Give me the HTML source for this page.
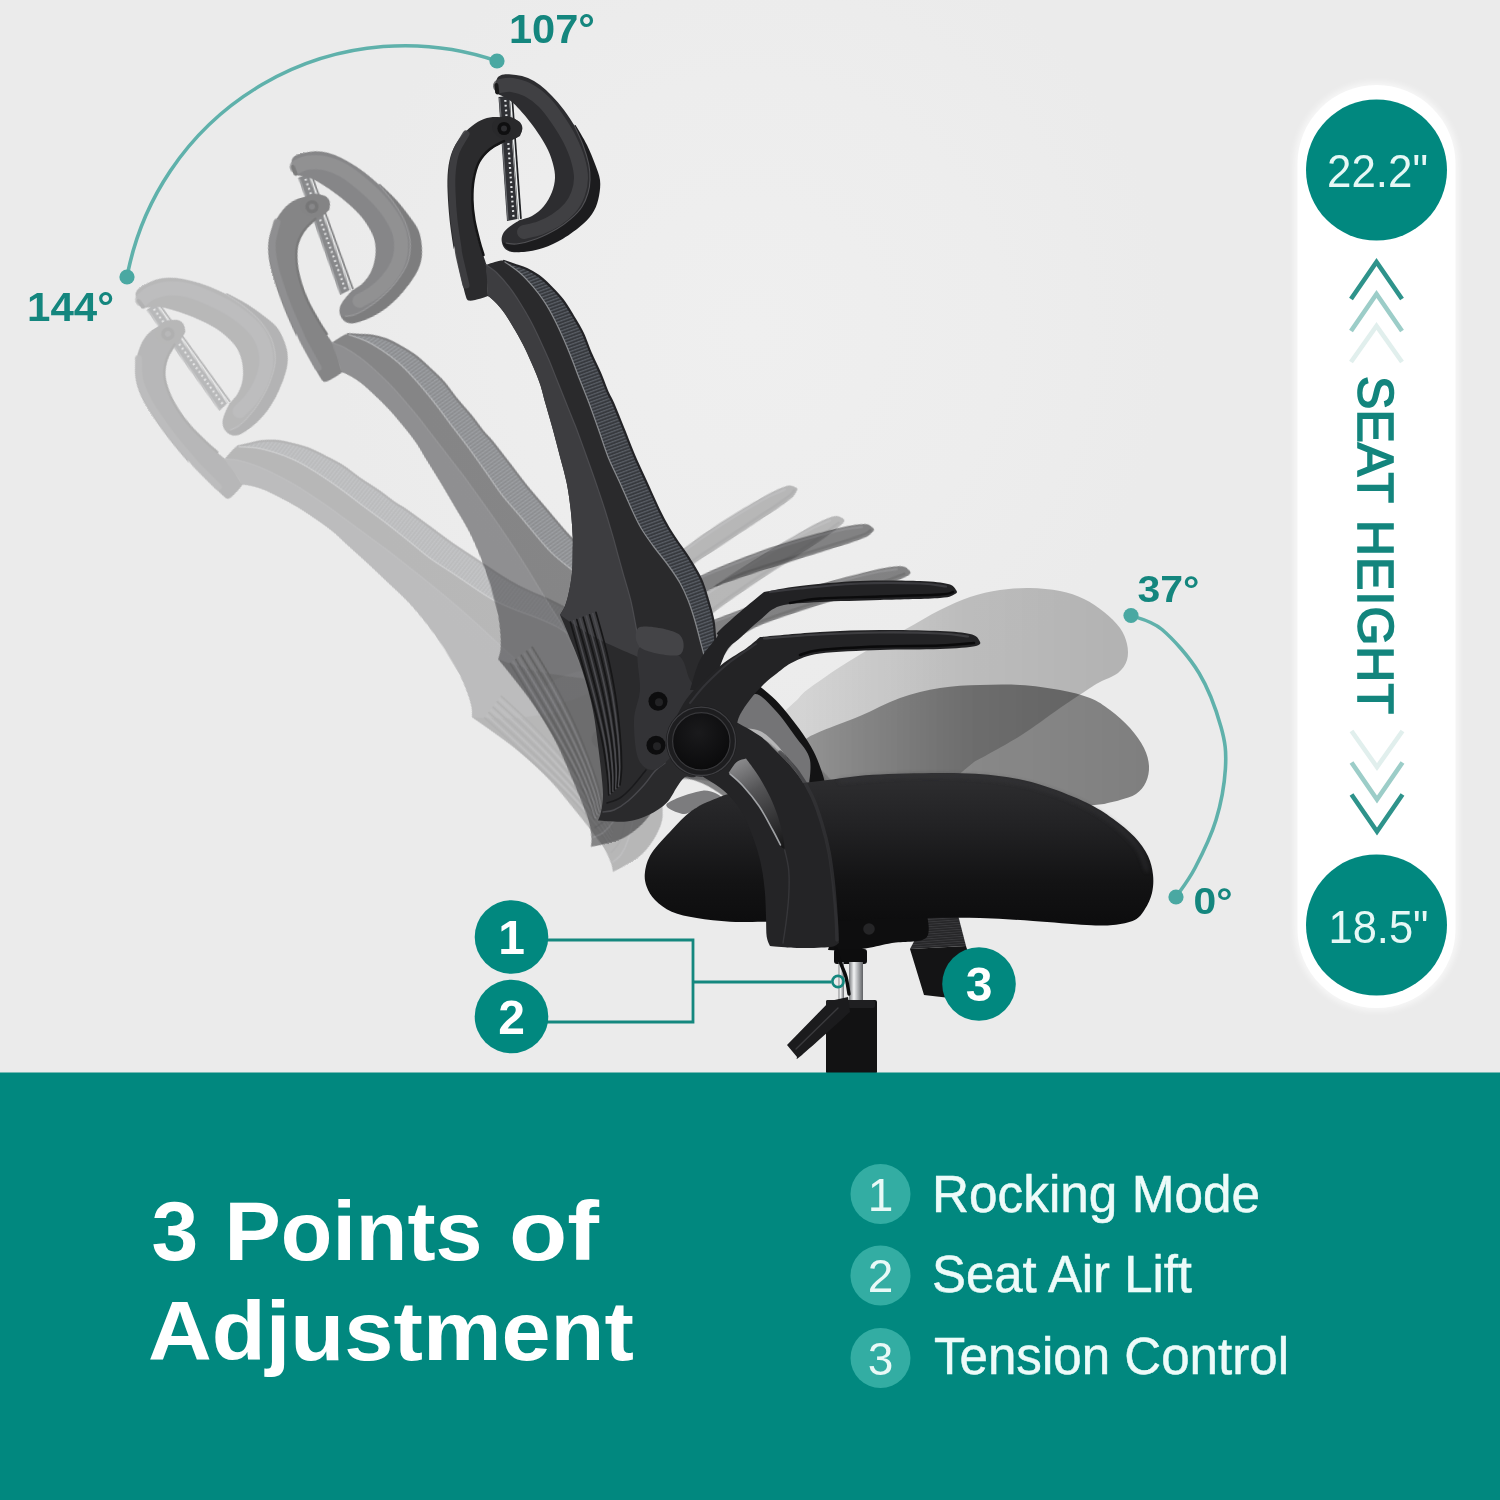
<!DOCTYPE html>
<html><head><meta charset="utf-8"><title>3 Points of Adjustment</title>
<style>
html,body{margin:0;padding:0;background:#ececec;}
body{width:1500px;height:1500px;overflow:hidden;font-family:"Liberation Sans",sans-serif;}
svg{display:block;font-family:"Liberation Sans",sans-serif;}
</style></head><body>
<svg width="1500" height="1500" viewBox="0 0 1500 1500">
<defs>
<radialGradient id="bg" cx="750" cy="330" r="420" gradientUnits="userSpaceOnUse">
<stop offset="0" stop-color="#efefef"/><stop offset="0.6" stop-color="#ededed"/><stop offset="1" stop-color="#ebebeb"/>
</radialGradient>
<filter id="blur6" x="-20%" y="-20%" width="140%" height="140%"><feGaussianBlur stdDeviation="5"/></filter>
<filter id="blur3" x="-20%" y="-20%" width="140%" height="140%"><feGaussianBlur stdDeviation="3"/></filter>
<filter id="blur2" x="-20%" y="-20%" width="140%" height="140%"><feGaussianBlur stdDeviation="2"/></filter>
<filter id="blur1" x="-20%" y="-20%" width="140%" height="140%"><feGaussianBlur stdDeviation="1"/></filter>
</defs>
<rect width="1500" height="1500" fill="url(#bg)"/>
<defs><pattern id="meshpat" width="6" height="3.2" patternUnits="userSpaceOnUse" patternTransform="rotate(-20)">
<rect width="6" height="3.2" fill="#3f4247"/><rect y="0" width="6" height="1.1" fill="#5a5e66"/><rect y="2" width="6" height="0.6" fill="#2a2c30"/></pattern>
<pattern id="ribs" width="4" height="2.4" patternUnits="userSpaceOnUse" patternTransform="rotate(-4)"><rect width="4" height="2.4" fill="#262628"/><rect width="4" height="0.9" fill="#3a3a3d"/></pattern>
<linearGradient id="seatg" x1="0" y1="770" x2="0" y2="930" gradientUnits="userSpaceOnUse"><stop offset="0" stop-color="#2f2f31"/><stop offset="0.35" stop-color="#222224"/><stop offset="0.7" stop-color="#131314"/><stop offset="1" stop-color="#0c0c0d"/></linearGradient>
<radialGradient id="knobg" cx="0.45" cy="0.35" r="0.8"><stop offset="0" stop-color="#1a1a1c"/><stop offset="1" stop-color="#070708"/></radialGradient>
<linearGradient id="rodg" x1="0" y1="0" x2="1" y2="0"><stop offset="0" stop-color="#77797c"/><stop offset="0.35" stop-color="#f2f3f4"/><stop offset="0.6" stop-color="#b9bbbe"/><stop offset="1" stop-color="#5e6063"/></linearGradient>
<linearGradient id="gs2" x1="800" y1="0" x2="1130" y2="0" gradientUnits="userSpaceOnUse"><stop offset="0" stop-color="#000" stop-opacity="0.10"/><stop offset="0.5" stop-color="#000" stop-opacity="0.20"/><stop offset="1" stop-color="#000" stop-opacity="0.24"/></linearGradient>
<linearGradient id="gs1" x1="800" y1="0" x2="1150" y2="0" gradientUnits="userSpaceOnUse"><stop offset="0" stop-color="#000" stop-opacity="0.30"/><stop offset="0.5" stop-color="#000" stop-opacity="0.42"/><stop offset="1" stop-color="#000" stop-opacity="0.46"/></linearGradient>
<linearGradient id="cutg" x1="735" y1="760" x2="785" y2="848" gradientUnits="userSpaceOnUse"><stop offset="0" stop-color="#8e8e90"/><stop offset="0.35" stop-color="#555557"/><stop offset="1" stop-color="#161617"/></linearGradient>
</defs>
<defs><g id="upper"><path d="M498.5 97 L509 96 L517.5 219 L507 221 Z" fill="#303135"/>
<path d="M505.3 100 L513.6 219" stroke="#e3e5e7" stroke-width="2.2" stroke-dasharray="1.8 3" fill="none"/>
<path d="M499.6 98 L508 220" stroke="#6d6f73" stroke-width="1.2" fill="none"/>
<path d="M511.2 98 L520 219" stroke="#1f2023" stroke-width="3.6" fill="none"/>
<path d="M510.6 98 L519.3 219" stroke="#eef0f1" stroke-width="1.5" fill="none"/>
<path d="M465.3 294.7C465.9 295.7 466.2 299.8 468.7 300.5C471.1 301.2 476.8 299.4 480.0 298.7C483.2 297.9 486.7 296.4 488.0 296.0L486.5 264.7C485.2 260.9 481.1 249.4 479.0 242.0C476.9 234.6 475.2 227.0 474.0 220.0C472.8 213.0 472.2 206.7 472.0 200.0C471.8 193.3 472.0 186.0 473.0 180.0C474.0 174.0 475.5 168.7 478.0 164.0C480.5 159.3 484.3 155.3 488.0 152.0C491.7 148.7 496.0 146.0 500.0 144.0C504.0 142.0 508.7 141.3 512.0 140.0C515.3 138.7 518.7 136.7 520.0 136.0C520.4 134.7 522.5 130.4 522.4 128.0C522.3 125.6 520.9 123.1 519.2 121.6C517.5 120.1 515.9 119.8 512.0 119.0C508.1 118.2 500.7 117.0 496.0 117.0C491.3 117.0 488.0 117.5 484.0 119.0C480.0 120.5 476.0 122.8 472.0 126.0C468.0 129.2 463.3 133.7 460.0 138.0C456.7 142.3 454.0 146.7 452.0 152.0C450.0 157.3 448.7 163.3 448.0 170.0C447.3 176.7 447.3 183.7 447.6 192.0C447.9 200.3 448.6 210.7 449.6 220.0C450.6 229.3 452.8 243.6 453.6 248.0C454.5 252.4 453.6 242.5 454.7 246.7C455.8 250.9 458.2 265.0 460.0 273.0C461.8 281.0 464.4 291.1 465.3 294.7Z" fill="#2b2b2d" />
<path d="M466.0 134.0C464.3 137.0 458.3 146.0 456.0 152.0C453.7 158.0 453.1 163.3 452.4 170.0C451.7 176.7 451.7 183.7 452.0 192.0C452.3 200.3 453.0 210.7 454.0 220.0C455.0 229.3 457.2 242.2 458.0 248.0C458.8 253.8 457.7 248.8 459.0 255.0C460.3 261.2 464.8 280.0 466.0 285.0" fill="none" stroke="#3f3f42" stroke-width="7" stroke-linecap="round" stroke-linejoin="round" opacity="0.9"/>
<path d="M504.0 141.0C501.7 142.3 494.2 145.5 490.0 149.0C485.8 152.5 481.7 156.8 479.0 162.0C476.3 167.2 474.7 173.7 473.6 180.0C472.5 186.3 472.3 193.3 472.4 200.0C472.5 206.7 473.2 213.0 474.4 220.0C475.6 227.0 478.1 236.2 479.6 242.0C481.1 247.8 482.9 252.8 483.5 255.0" fill="none" stroke="#151516" stroke-width="2.5" stroke-linecap="round" stroke-linejoin="round" />
<ellipse cx="507" cy="128" rx="15" ry="11.5" transform="rotate(12 507 128)" fill="#29292b"/>
<circle cx="504" cy="128.5" r="6.6" fill="#0f0f10"/><circle cx="504" cy="128.5" r="3" fill="#2e2e31"/>
<path d="M495.6 83.0C496.0 82.0 496.6 78.4 498.0 77.0C499.4 75.6 501.0 74.7 504.0 74.4C507.0 74.1 512.0 74.4 516.0 75.0C520.0 75.6 524.0 76.3 528.0 78.0C532.0 79.7 536.0 82.0 540.0 85.0C544.0 88.0 548.0 91.8 552.0 96.0C556.0 100.2 560.0 104.7 564.0 110.0C568.0 115.3 572.3 122.0 576.0 128.0C579.7 134.0 583.0 140.0 586.0 146.0C589.0 152.0 592.0 158.7 594.0 164.0C596.0 169.3 597.5 173.3 598.0 178.0C598.5 182.7 598.0 187.3 597.0 192.0C596.0 196.7 594.5 201.7 592.0 206.0C589.5 210.3 585.7 214.3 582.0 218.0C578.3 221.7 574.3 224.7 570.0 228.0C565.7 231.3 561.0 234.8 556.0 238.0C551.0 241.2 545.3 244.7 540.0 247.0C534.7 249.3 528.7 250.8 524.0 251.6C519.3 252.4 515.3 252.6 512.0 252.0C508.7 251.4 506.1 250.0 504.4 248.0C502.7 246.0 501.7 242.7 501.6 240.0C501.5 237.3 502.3 234.5 504.0 232.0C505.7 229.5 509.3 227.0 512.0 225.0C514.7 223.0 518.7 220.8 520.0 220.0C522.0 219.3 528.0 218.3 532.0 216.0C536.0 213.7 540.7 210.0 544.0 206.0C547.3 202.0 550.2 196.7 552.0 192.0C553.8 187.3 554.8 182.7 555.0 178.0C555.2 173.3 554.2 168.7 553.0 164.0C551.8 159.3 550.2 154.7 548.0 150.0C545.8 145.3 543.0 140.7 540.0 136.0C537.0 131.3 533.3 126.3 530.0 122.0C526.7 117.7 523.0 113.3 520.0 110.0C517.0 106.7 514.7 104.2 512.0 102.0C509.3 99.8 506.7 98.5 504.0 97.0C501.3 95.5 497.0 93.7 495.6 93.0L495.6 83.0Z" fill="#2d2d30" />
<path d="M500.0 86.0C502.0 85.8 507.3 84.3 512.0 85.0C516.7 85.7 522.7 87.2 528.0 90.0C533.3 92.8 539.0 97.0 544.0 102.0C549.0 107.0 553.7 113.7 558.0 120.0C562.3 126.3 566.7 133.3 570.0 140.0C573.3 146.7 576.2 153.7 578.0 160.0C579.8 166.3 581.0 172.3 581.0 178.0C581.0 183.7 579.8 189.0 578.0 194.0C576.2 199.0 573.7 203.7 570.0 208.0C566.3 212.3 561.0 216.7 556.0 220.0C551.0 223.3 545.3 226.0 540.0 228.0C534.7 230.0 526.7 231.3 524.0 232.0" fill="none" stroke="#47474a" stroke-width="14" stroke-linecap="round" stroke-linejoin="round" opacity="0.75"/>
<path d="M575.5 125.0C577.4 128.3 583.8 138.5 587.0 145.0C590.2 151.5 592.8 158.2 595.0 164.0C597.2 169.8 599.3 174.7 600.0 180.0C600.7 185.3 600.0 190.9 599.0 196.0C598.0 201.1 596.7 206.0 594.0 210.7C591.3 215.4 588.2 219.3 583.0 224.0C577.8 228.7 569.7 234.7 563.0 238.7C556.3 242.7 549.7 245.8 543.0 248.0C536.3 250.2 528.5 251.6 523.0 252.0C517.5 252.4 513.3 252.0 510.0 250.7C506.7 249.4 504.2 245.1 503.0 244.0C503.3 243.8 502.4 242.7 504.7 242.7C507.0 242.7 511.4 244.7 516.7 244.0C522.0 243.3 530.0 241.2 536.7 238.7C543.4 236.2 551.0 232.3 556.7 229.0C562.4 225.7 566.8 222.4 571.0 218.7C575.2 215.0 579.2 211.0 582.0 206.7C584.8 202.4 586.7 197.4 588.0 193.0C589.3 188.6 589.9 184.8 590.0 180.0C590.1 175.2 589.9 169.8 588.7 164.0C587.5 158.2 585.3 151.2 583.0 145.0C580.7 138.8 576.2 130.0 575.0 126.7C573.8 123.4 575.4 125.3 575.5 125.0Z" fill="#1c1c1e" />
<path d="M575.0 126.7C576.3 129.8 580.7 138.8 583.0 145.0C585.3 151.2 587.5 158.2 588.7 164.0C589.9 169.8 590.1 175.2 590.0 180.0C589.9 184.8 589.3 188.6 588.0 193.0C586.7 197.4 584.8 202.4 582.0 206.7C579.2 211.0 575.2 215.0 571.0 218.7C566.8 222.4 562.4 225.7 556.7 229.0C551.0 232.3 543.4 236.2 536.7 238.7C530.0 241.2 521.8 243.3 516.7 244.0C511.6 244.7 507.8 243.2 506.0 243.0" fill="none" stroke="#5c5c60" stroke-width="1.1" stroke-linecap="round" stroke-linejoin="round" opacity="0.8"/>
<path d="M496.4 85.0L497.2 92.4" fill="none" stroke="#19191a" stroke-width="4" stroke-linecap="round" stroke-linejoin="round" /><path d="M504.0 261.0C505.8 261.6 510.9 263.4 514.7 264.7C518.5 266.0 522.7 267.1 526.7 269.0C530.7 270.9 534.7 273.1 538.7 276.0C542.7 278.9 546.7 282.7 550.7 286.7C554.7 290.7 559.0 295.1 562.7 300.0C566.4 304.9 569.7 310.5 573.0 316.0C576.3 321.5 579.8 326.8 582.7 333.0C585.7 339.2 587.8 346.3 590.7 353.0C593.6 359.7 597.1 366.3 600.0 373.0C602.9 379.7 605.8 388.0 608.0 393.0C610.2 398.0 610.3 396.8 613.0 403.0C615.7 409.2 620.4 421.1 624.0 430.0C627.6 438.9 630.9 447.9 634.7 456.7C638.5 465.5 642.5 473.8 646.7 483.0C650.9 492.2 656.5 504.7 660.0 512.0C663.5 519.3 665.2 522.2 668.0 527.0C670.8 531.8 673.3 535.5 677.0 541.0C680.7 546.5 686.0 553.5 690.0 560.0C694.0 566.5 698.3 573.3 701.3 580.0C704.3 586.7 706.0 593.3 708.0 600.0C710.0 606.7 712.2 614.5 713.3 620.0C714.4 625.5 714.2 626.3 714.7 633.0C715.2 639.7 716.5 650.5 716.0 660.0C715.5 669.5 714.7 683.3 712.0 690.0C709.3 696.7 700.5 702.8 700.0 700.0C699.5 697.2 708.4 679.7 709.3 673.0C710.2 666.3 706.8 665.5 705.3 660.0C703.8 654.5 701.8 646.7 700.0 640.0C698.2 633.3 696.7 626.7 694.7 620.0C692.7 613.3 690.5 606.2 688.0 600.0C685.5 593.8 683.3 588.8 680.0 583.0C676.7 577.2 672.5 571.2 668.0 565.0C663.5 558.8 657.8 552.2 653.3 546.0C648.8 539.8 644.5 534.0 641.0 528.0C637.5 522.0 635.5 517.5 632.0 510.0C628.5 502.5 624.0 491.9 620.0 483.0C616.0 474.1 611.5 465.5 608.0 456.7C604.5 447.9 601.9 438.9 598.7 430.0C595.5 421.1 592.3 411.8 589.0 403.0C585.7 394.2 581.8 384.8 578.7 377.0C575.7 369.2 573.4 362.7 570.7 356.0C568.0 349.3 565.4 343.0 562.7 337.0C560.0 331.0 557.7 325.7 554.7 320.0C551.8 314.3 548.6 308.2 545.0 302.7C541.4 297.1 537.2 291.6 533.0 286.7C528.8 281.8 524.7 277.1 520.0 273.0C515.3 268.9 507.7 264.0 505.0 262.0C502.3 260.0 504.2 261.2 504.0 261.0Z" fill="url(#meshpat)" />
<path d="M504.0 261.0C505.8 261.6 510.9 263.4 514.7 264.7C518.5 266.0 522.7 267.1 526.7 269.0C530.7 270.9 534.7 273.1 538.7 276.0C542.7 278.9 546.7 282.7 550.7 286.7C554.7 290.7 559.0 295.1 562.7 300.0C566.4 304.9 569.7 310.5 573.0 316.0C576.3 321.5 579.8 326.8 582.7 333.0C585.7 339.2 587.8 346.3 590.7 353.0C593.6 359.7 597.1 366.3 600.0 373.0C602.9 379.7 605.8 388.0 608.0 393.0C610.2 398.0 610.3 396.8 613.0 403.0C615.7 409.2 620.4 421.1 624.0 430.0C627.6 438.9 630.9 447.9 634.7 456.7C638.5 465.5 642.5 473.8 646.7 483.0C650.9 492.2 656.5 504.7 660.0 512.0C663.5 519.3 665.2 522.2 668.0 527.0C670.8 531.8 673.3 535.5 677.0 541.0C680.7 546.5 686.0 553.5 690.0 560.0C694.0 566.5 698.3 573.3 701.3 580.0C704.3 586.7 706.0 593.3 708.0 600.0C710.0 606.7 712.2 614.5 713.3 620.0C714.4 625.5 714.2 626.3 714.7 633.0C715.2 639.7 716.5 650.5 716.0 660.0C715.5 669.5 712.7 685.0 712.0 690.0" fill="none" stroke="#232326" stroke-width="2.2" stroke-linecap="round" stroke-linejoin="round" />
<path d="M486.0 264.7C488.3 264.0 497.0 261.3 500.0 260.7C503.0 260.1 503.3 260.9 504.0 261.0C506.7 263.0 515.2 268.7 520.0 273.0C524.8 277.3 528.8 281.8 533.0 286.7C537.2 291.6 541.4 297.1 545.0 302.7C548.6 308.2 551.8 314.3 554.7 320.0C557.7 325.7 560.0 331.0 562.7 337.0C565.4 343.0 568.0 349.3 570.7 356.0C573.4 362.7 575.7 369.2 578.7 377.0C581.8 384.8 585.7 394.2 589.0 403.0C592.3 411.8 595.5 421.1 598.7 430.0C601.9 438.9 604.5 447.9 608.0 456.7C611.5 465.5 616.0 474.1 620.0 483.0C624.0 491.9 628.5 502.5 632.0 510.0C635.5 517.5 637.5 522.0 641.0 528.0C644.5 534.0 648.8 539.8 653.3 546.0C657.8 552.2 663.5 558.8 668.0 565.0C672.5 571.2 676.7 577.2 680.0 583.0C683.3 588.8 685.5 593.8 688.0 600.0C690.5 606.2 692.7 613.3 694.7 620.0C696.7 626.7 698.2 633.3 700.0 640.0C701.8 646.7 703.8 654.5 705.3 660.0C706.8 665.5 708.2 666.3 709.3 673.0C710.4 679.7 711.5 695.5 712.0 700.0C710.0 711.7 704.5 757.2 700.0 770.0C695.5 782.8 688.8 774.2 685.0 777.0C681.2 779.8 680.0 782.7 677.0 787.0C674.0 791.3 671.4 798.1 666.7 802.7C662.0 807.3 655.7 811.6 649.0 814.7C642.3 817.8 635.2 820.5 626.7 821.5C618.2 822.5 602.8 820.7 598.0 820.5C598.5 819.1 600.2 816.2 601.0 812.0C601.8 807.8 603.0 802.0 603.0 795.0C603.0 788.0 601.8 778.3 601.0 770.0C600.2 761.7 599.0 753.3 598.0 745.0C597.0 736.7 595.9 727.5 594.7 720.0C593.5 712.5 592.3 706.7 590.7 700.0C589.1 693.3 587.3 686.7 585.3 680.0C583.3 673.3 581.1 666.7 578.7 660.0C576.3 653.3 573.2 646.0 570.7 640.0C568.2 634.0 565.8 628.2 564.0 624.0C562.2 619.8 560.7 616.2 560.0 614.7C560.8 613.4 563.2 610.3 564.7 606.7C566.2 603.1 567.5 598.6 568.7 593.0C569.9 587.4 571.3 580.2 572.0 573.0C572.7 565.8 572.6 556.0 572.7 550.0C572.8 544.0 573.0 543.4 572.7 536.7C572.4 530.0 571.7 519.0 570.7 510.0C569.7 501.1 568.5 491.9 566.7 483.0C564.9 474.1 562.3 465.5 560.0 456.7C557.7 447.9 555.5 438.9 553.0 430.0C550.5 421.1 547.5 410.7 545.3 403.0C543.1 395.3 542.2 390.5 540.0 384.0C537.8 377.5 534.9 370.7 532.0 364.0C529.1 357.3 525.9 350.2 522.7 344.0C519.5 337.8 516.3 332.2 513.0 326.7C509.7 321.1 506.0 315.1 502.7 310.7C499.4 306.2 495.4 302.4 493.0 300.0C490.6 297.6 488.8 296.7 488.0 296.0C487.2 295.3 488.0 296.0 488.0 296.0L486.0 264.7Z" fill="#2a2a2c" />
<path d="M486.0 264.7C487.8 266.1 493.2 269.3 497.0 273.0C500.8 276.7 505.2 281.8 509.0 286.7C512.8 291.6 516.4 297.0 520.0 302.7C523.6 308.4 527.4 314.8 530.7 321.0C534.0 327.2 537.0 333.5 540.0 340.0C543.0 346.5 546.2 353.3 549.0 360.0C551.8 366.7 554.3 373.3 557.0 380.0C559.7 386.7 562.3 393.3 565.0 400.0C567.7 406.7 571.0 415.0 573.0 420.0C575.0 425.0 574.7 423.9 577.0 430.0C579.3 436.1 583.5 447.9 586.7 456.7C589.9 465.5 593.0 474.1 596.0 483.0C599.0 491.9 602.2 501.1 605.0 510.0C607.8 519.0 610.8 529.2 613.0 536.7C615.2 544.2 616.3 549.0 618.0 555.0C619.7 561.0 620.9 565.5 623.0 573.0C625.1 580.5 628.5 591.0 630.7 600.0C632.9 609.0 634.5 618.9 636.0 626.7C637.5 634.5 638.5 641.2 640.0 646.7C641.5 652.2 644.2 657.8 645.0 660.0C645.8 662.2 645.0 660.0 645.0 660.0C637.5 656.7 611.7 645.8 600.0 640.0C588.3 634.2 581.7 629.2 575.0 625.0C568.3 620.8 562.5 616.4 560.0 614.7C560.8 613.4 563.2 610.3 564.7 606.7C566.2 603.1 567.5 598.6 568.7 593.0C569.9 587.4 571.3 580.2 572.0 573.0C572.7 565.8 572.6 556.0 572.7 550.0C572.8 544.0 573.0 543.4 572.7 536.7C572.4 530.0 571.7 519.0 570.7 510.0C569.7 501.1 568.5 491.9 566.7 483.0C564.9 474.1 562.3 465.5 560.0 456.7C557.7 447.9 555.5 438.9 553.0 430.0C550.5 421.1 547.5 410.7 545.3 403.0C543.1 395.3 542.2 390.5 540.0 384.0C537.8 377.5 534.9 370.7 532.0 364.0C529.1 357.3 525.9 350.2 522.7 344.0C519.5 337.8 516.3 332.2 513.0 326.7C509.7 321.1 506.0 315.1 502.7 310.7C499.4 306.2 495.4 302.4 493.0 300.0C490.6 297.6 488.8 296.7 488.0 296.0C487.2 295.3 488.0 296.0 488.0 296.0L486.0 264.7Z" fill="#3d3d40" />
<path d="M486.0 264.7C487.8 266.1 493.2 269.3 497.0 273.0C500.8 276.7 505.2 281.8 509.0 286.7C512.8 291.6 516.4 297.0 520.0 302.7C523.6 308.4 527.4 314.8 530.7 321.0C534.0 327.2 537.0 333.5 540.0 340.0C543.0 346.5 546.2 353.3 549.0 360.0C551.8 366.7 554.3 373.3 557.0 380.0C559.7 386.7 562.3 393.3 565.0 400.0C567.7 406.7 571.0 415.0 573.0 420.0C575.0 425.0 574.7 423.9 577.0 430.0C579.3 436.1 583.5 447.9 586.7 456.7C589.9 465.5 593.0 474.1 596.0 483.0C599.0 491.9 602.2 501.1 605.0 510.0C607.8 519.0 610.8 529.2 613.0 536.7C615.2 544.2 616.3 549.0 618.0 555.0C619.7 561.0 620.9 565.5 623.0 573.0C625.1 580.5 628.5 591.0 630.7 600.0C632.9 609.0 634.5 618.9 636.0 626.7C637.5 634.5 638.5 641.2 640.0 646.7C641.5 652.2 644.2 657.8 645.0 660.0" fill="none" stroke="#55555a" stroke-width="1.2" stroke-linecap="round" stroke-linejoin="round" opacity="0.7"/>
<path d="M505.0 262.0C507.5 263.8 515.3 268.9 520.0 273.0C524.7 277.1 528.8 281.8 533.0 286.7C537.2 291.6 541.4 297.1 545.0 302.7C548.6 308.2 551.8 314.3 554.7 320.0C557.7 325.7 560.0 331.0 562.7 337.0C565.4 343.0 568.0 349.3 570.7 356.0C573.4 362.7 575.7 369.2 578.7 377.0C581.8 384.8 585.7 394.2 589.0 403.0C592.3 411.8 595.5 421.1 598.7 430.0C601.9 438.9 604.5 447.9 608.0 456.7C611.5 465.5 616.0 474.1 620.0 483.0C624.0 491.9 628.5 502.5 632.0 510.0C635.5 517.5 637.5 522.0 641.0 528.0C644.5 534.0 648.8 539.8 653.3 546.0C657.8 552.2 663.5 558.8 668.0 565.0C672.5 571.2 676.7 577.2 680.0 583.0C683.3 588.8 685.5 593.8 688.0 600.0C690.5 606.2 692.7 613.3 694.7 620.0C696.7 626.7 698.2 633.3 700.0 640.0C701.8 646.7 703.8 654.5 705.3 660.0C706.8 665.5 708.6 670.8 709.3 673.0" fill="none" stroke="#8d8f93" stroke-width="1.3" stroke-linecap="round" stroke-linejoin="round" opacity="0.85"/><path d="M570.4 622.0C572.3 628.7 577.9 648.7 581.6 662.0C585.3 675.3 589.3 688.7 592.8 702.0C596.3 715.3 600.0 730.0 602.4 742.0C604.8 754.0 606.1 765.2 607.2 774.0C608.3 782.8 608.5 791.5 608.8 795.0" fill="none" stroke="#161617" stroke-width="1.7" stroke-linecap="round" stroke-linejoin="round" />
<path d="M573.6 620.8C575.5 627.5 581.1 647.6 584.8 661.0C588.5 674.4 592.3 687.7 595.6 701.0C598.9 714.3 602.4 729.0 604.6 741.0C606.8 753.0 608.1 764.2 609.0 773.0C609.9 781.8 610.0 790.3 610.2 793.8" fill="none" stroke="#4a4a4e" stroke-width="1.7" stroke-linecap="round" stroke-linejoin="round" />
<path d="M576.8 619.6C578.7 626.3 584.4 646.6 588.0 660.0C591.6 673.4 595.3 686.7 598.4 700.0C601.5 713.3 604.7 728.0 606.8 740.0C608.9 752.0 610.0 763.2 610.8 772.0C611.6 780.8 611.5 789.1 611.6 792.5" fill="none" stroke="#161617" stroke-width="1.7" stroke-linecap="round" stroke-linejoin="round" />
<path d="M580.0 618.4C581.9 625.2 587.7 645.6 591.2 659.0C594.7 672.4 598.2 685.7 601.2 699.0C604.2 712.3 607.1 727.0 609.0 739.0C610.9 751.0 611.9 762.3 612.6 771.0C613.3 779.7 612.9 787.9 613.0 791.2" fill="none" stroke="#4a4a4e" stroke-width="1.7" stroke-linecap="round" stroke-linejoin="round" />
<path d="M583.2 617.2C585.1 624.0 590.9 644.5 594.4 658.0C597.9 671.5 601.2 684.7 604.0 698.0C606.8 711.3 609.5 726.0 611.2 738.0C612.9 750.0 613.9 761.3 614.4 770.0C614.9 778.7 614.4 786.7 614.4 790.0" fill="none" stroke="#161617" stroke-width="1.7" stroke-linecap="round" stroke-linejoin="round" />
<path d="M586.4 616.0C588.3 622.8 594.2 643.5 597.6 657.0C601.0 670.5 604.2 683.7 606.8 697.0C609.4 710.3 611.8 725.0 613.4 737.0C615.0 749.0 615.8 760.4 616.2 769.0C616.6 777.6 615.9 785.5 615.8 788.8" fill="none" stroke="#4a4a4e" stroke-width="1.7" stroke-linecap="round" stroke-linejoin="round" />
<path d="M589.6 614.8C591.5 621.7 597.5 642.5 600.8 656.0C604.1 669.5 607.1 682.7 609.6 696.0C612.1 709.3 614.2 724.0 615.6 736.0C617.0 748.0 617.7 759.4 618.0 768.0C618.3 776.6 617.3 784.2 617.2 787.5" fill="none" stroke="#161617" stroke-width="1.7" stroke-linecap="round" stroke-linejoin="round" />
<path d="M592.8 613.6C594.7 620.5 600.7 641.4 604.0 655.0C607.3 668.6 610.1 681.7 612.4 695.0C614.7 708.3 616.6 723.0 617.8 735.0C619.0 747.0 619.7 758.5 619.8 767.0C619.9 775.5 618.8 783.0 618.6 786.2" fill="none" stroke="#4a4a4e" stroke-width="1.7" stroke-linecap="round" stroke-linejoin="round" />
<path d="M596.0 612.4C597.9 619.3 604.0 640.4 607.2 654.0C610.4 667.6 613.1 680.7 615.2 694.0C617.3 707.3 618.9 722.0 620.0 734.0C621.1 746.0 621.6 757.5 621.6 766.0C621.6 774.5 620.3 781.8 620.0 785.0" fill="none" stroke="#161617" stroke-width="1.7" stroke-linecap="round" stroke-linejoin="round" />
<path d="M603.0 812.0C604.8 811.7 609.8 811.8 614.0 810.0C618.2 808.2 623.0 805.2 628.0 801.0C633.0 796.8 639.5 790.0 644.0 785.0C648.5 780.0 651.5 774.7 655.0 771.0C658.5 767.3 663.3 764.3 665.0 763.0" fill="none" stroke="#48484c" stroke-width="1.5" stroke-linecap="round" stroke-linejoin="round" />
<path d="M607.0 803.0C609.2 802.2 615.7 800.8 620.0 798.0C624.3 795.2 628.7 790.7 633.0 786.0C637.3 781.3 643.8 772.7 646.0 770.0" fill="none" stroke="#1a1a1c" stroke-width="1.5" stroke-linecap="round" stroke-linejoin="round" />
<path d="M640.0 647.0C646.3 641.2 669.7 649.5 678.0 655.0C686.3 660.5 685.7 672.5 690.0 680.0C694.3 687.5 704.0 693.3 704.0 700.0C704.0 706.7 694.7 712.5 690.0 720.0C685.3 727.5 679.7 738.3 676.0 745.0C672.3 751.7 672.0 755.8 668.0 760.0C664.0 764.2 657.0 770.3 652.0 770.0C647.0 769.7 641.0 766.3 638.0 758.0C635.0 749.7 633.7 731.3 634.0 720.0C634.3 708.7 639.0 702.2 640.0 690.0C641.0 677.8 633.7 652.8 640.0 647.0Z" fill="#333336" />
<path d="M640.0 627.0C646.3 624.7 672.2 629.3 678.7 634.0C685.2 638.7 685.3 652.7 679.0 655.0C672.7 657.3 647.5 652.7 641.0 648.0C634.5 643.3 633.7 629.3 640.0 627.0Z" fill="#444447" />
<circle cx="658" cy="701.3" r="9.5" fill="#0d0d0e"/><circle cx="659" cy="702.3" r="4" fill="#232325"/>
<circle cx="656" cy="745.3" r="9.5" fill="#0d0d0e"/><circle cx="657" cy="746.3" r="4" fill="#232325"/><path d="M755.0 692.0C758.0 694.7 766.7 701.2 773.0 708.0C779.3 714.8 787.3 725.2 793.0 733.0C798.7 740.8 803.3 748.0 807.0 755.0C810.7 762.0 813.2 769.8 815.0 775.0C816.8 780.2 817.5 784.2 818.0 786.0" fill="none" stroke="#131314" stroke-width="15" stroke-linecap="round" stroke-linejoin="round" />
<path d="M764.0 592.0C770.0 591.0 784.0 587.8 800.0 586.0C816.0 584.2 840.0 581.8 860.0 581.0C880.0 580.2 905.3 580.5 920.0 581.0C934.7 581.5 942.0 582.5 948.0 584.0C954.0 585.5 954.8 588.3 956.0 590.0C957.2 591.7 957.7 592.7 955.0 594.0C952.3 595.3 952.5 597.0 940.0 598.0C927.5 599.0 900.0 599.3 880.0 600.0C860.0 600.7 836.7 601.0 820.0 602.0C803.3 603.0 790.0 603.0 780.0 606.0C770.0 609.0 766.7 614.7 760.0 620.0C753.3 625.3 745.7 632.7 740.0 638.0C734.3 643.3 730.7 643.3 726.0 652.0C721.3 660.7 714.3 683.7 712.0 690.0L690.0 690.0C691.7 685.0 695.5 668.8 700.0 660.0C704.5 651.2 714.0 641.7 717.0 637.0C720.0 632.3 714.2 636.2 718.0 632.0C721.8 627.8 732.3 618.7 740.0 612.0C747.7 605.3 760.0 595.3 764.0 592.0Z" fill="#222224" />
<path d="M770.0 592.0C775.0 591.4 785.0 589.9 800.0 588.5C815.0 587.1 840.0 584.3 860.0 583.5C880.0 582.7 905.7 583.0 920.0 583.5C934.3 584.0 941.7 586.0 946.0 586.5" fill="none" stroke="#3d3d41" stroke-width="2.2" stroke-linecap="round" stroke-linejoin="round" opacity="0.9"/>
<path d="M790.0 603.0C795.0 602.2 805.0 599.6 820.0 598.5C835.0 597.4 860.0 597.2 880.0 596.5C900.0 595.8 927.8 595.2 940.0 594.5C952.2 593.8 950.8 592.4 953.0 592.0" fill="none" stroke="#0b0b0c" stroke-width="2.4" stroke-linecap="round" stroke-linejoin="round" />
<path d="M736.0 722.0C740.0 724.3 753.5 731.3 760.0 736.0C766.5 740.7 769.3 744.3 775.0 750.0C780.7 755.7 788.7 763.3 794.0 770.0C799.3 776.7 803.0 782.2 807.0 790.0C811.0 797.8 814.8 807.9 818.0 816.7C821.2 825.5 823.8 834.1 826.0 843.0C828.2 851.9 829.5 861.0 831.0 870.0C832.5 879.0 833.8 887.9 835.0 896.7C836.2 905.5 837.3 915.3 838.0 923.0C838.7 930.7 838.8 939.7 839.0 943.0C837.5 943.7 837.0 946.2 830.0 947.0C823.0 947.8 807.0 948.2 797.0 948.0C787.0 947.8 774.5 946.3 770.0 946.0C769.5 944.5 767.4 941.6 766.7 936.7C766.0 931.8 766.3 924.5 766.0 916.7C765.7 908.9 765.6 899.0 764.7 890.0C763.8 881.0 762.7 871.9 760.7 863.0C758.7 854.1 756.0 845.5 752.7 836.7C749.4 827.9 745.7 817.8 740.7 810.0C735.8 802.2 729.3 795.5 723.0 790.0C716.7 784.5 706.3 778.9 703.0 776.7L700.0 750.0L736.0 722.0Z" fill="#242426" />
<path d="M728.7 772.7C730.0 770.9 733.8 764.4 736.7 762.0C739.6 759.6 744.5 759.1 746.0 758.5C748.2 761.5 755.0 770.3 759.0 776.7C763.0 783.1 766.8 790.0 770.0 796.7C773.2 803.4 775.8 810.0 778.0 816.7C780.2 823.4 781.9 831.4 783.0 836.7C784.1 842.0 784.4 846.7 784.7 848.7C784.0 848.2 782.7 849.1 780.7 846.0C778.7 842.9 776.3 836.7 772.7 830.0C769.1 823.3 764.0 813.3 759.0 806.0C754.0 798.7 748.0 791.5 743.0 786.0C738.0 780.5 731.1 774.9 728.7 772.7Z" fill="url(#cutg)" />
<path d="M730.0 774.0C732.2 776.0 738.2 780.7 743.0 786.0C747.8 791.3 754.0 798.7 759.0 806.0C764.0 813.3 769.1 823.5 772.7 830.0C776.3 836.5 779.2 842.5 780.5 845.0" fill="none" stroke="#b4b6ba" stroke-width="1.6" stroke-linecap="round" stroke-linejoin="round" opacity="0.85"/>
<path d="M784.7 850.0C785.4 853.3 788.0 862.2 788.7 870.0C789.4 877.8 789.2 887.9 788.7 896.7C788.2 905.5 787.0 915.3 786.0 923.0C785.0 930.7 783.5 939.7 783.0 943.0" fill="none" stroke="#3b3b3e" stroke-width="1.4" stroke-linecap="round" stroke-linejoin="round" opacity="0.8"/>
<path d="M780.0 752.0C783.0 755.3 792.7 764.7 798.0 772.0C803.3 779.3 808.0 787.3 812.0 796.0C816.0 804.7 819.2 814.7 822.0 824.0C824.8 833.3 827.2 842.7 829.0 852.0C830.8 861.3 831.8 869.5 833.0 880.0C834.2 890.5 835.3 905.0 836.0 915.0C836.7 925.0 836.8 935.8 837.0 940.0" fill="none" stroke="#343437" stroke-width="3.5" stroke-linecap="round" stroke-linejoin="round" opacity="0.7"/>
<path d="M760.0 637.0C770.0 636.2 800.0 633.2 820.0 632.0C840.0 630.8 860.0 630.2 880.0 630.0C900.0 629.8 925.0 630.3 940.0 631.0C955.0 631.7 963.5 632.5 970.0 634.0C976.5 635.5 978.0 638.0 979.0 640.0C980.0 642.0 982.5 644.5 976.0 646.0C969.5 647.5 956.0 648.3 940.0 649.0C924.0 649.7 900.0 649.2 880.0 650.0C860.0 650.8 834.5 651.5 820.0 653.5C805.5 655.5 800.4 658.8 793.3 662.0C786.2 665.2 782.2 669.3 777.3 673.0C772.4 676.7 768.4 679.7 764.0 684.0C759.6 688.3 754.7 693.6 750.7 698.7C746.7 703.8 742.5 709.8 740.0 714.7C737.5 719.6 736.7 725.8 736.0 728.0L700.0 760.0L672.0 725.0C672.9 723.3 674.8 719.1 677.3 714.7C679.8 710.3 682.5 704.3 686.7 698.7C690.9 693.1 696.5 687.3 702.7 681.3C708.9 675.3 716.7 668.2 724.0 662.7C731.3 657.2 740.7 652.3 746.7 648.0C752.7 643.7 757.8 638.8 760.0 637.0Z" fill="#232325" />
<path d="M764.0 638.5C773.3 637.8 800.7 635.5 820.0 634.5C839.3 633.5 860.0 632.7 880.0 632.5C900.0 632.3 925.3 632.8 940.0 633.5C954.7 634.2 963.3 636.0 968.0 636.5" fill="none" stroke="#404044" stroke-width="2.2" stroke-linecap="round" stroke-linejoin="round" opacity="0.9"/>
<path d="M800.0 655.0C803.3 654.2 806.7 651.4 820.0 650.0C833.3 648.6 860.0 647.2 880.0 646.5C900.0 645.8 924.3 646.1 940.0 645.5C955.7 644.9 968.3 643.4 974.0 643.0" fill="none" stroke="#0a0a0b" stroke-width="2.6" stroke-linecap="round" stroke-linejoin="round" />
<path d="M756.0 644.0C751.7 647.0 738.3 655.3 730.0 662.0C721.7 668.7 712.7 677.2 706.0 684.0C699.3 690.8 692.7 699.8 690.0 703.0" fill="none" stroke="#3a3a3e" stroke-width="2" stroke-linecap="round" stroke-linejoin="round" opacity="0.7"/>
<circle cx="701.3" cy="741.3" r="35.5" fill="#1d1d1f"/>
<circle cx="701.3" cy="741.3" r="34.2" fill="none" stroke="#47474b" stroke-width="1.3" opacity="0.8"/>
<circle cx="701.3" cy="741.3" r="28.7" fill="url(#knobg)"/>
<circle cx="701.3" cy="741.3" r="28.7" fill="none" stroke="#38383b" stroke-width="1.2"/></g></defs>
<g opacity="0.27"><use href="#upper" transform="rotate(-31.86 695.7 820)"/></g>
<path d="M772.0 726.0C774.2 723.5 780.8 715.3 785.0 711.0C789.2 706.7 793.3 703.5 797.0 700.0C800.7 696.5 799.8 695.5 807.0 690.0C814.2 684.5 829.0 674.2 840.0 667.0C851.0 659.8 862.0 653.3 873.0 647.0C884.0 640.7 894.8 635.2 906.0 629.0C917.2 622.8 929.3 615.3 940.0 610.0C950.7 604.7 960.0 600.3 970.0 597.0C980.0 593.7 990.0 591.5 1000.0 590.0C1010.0 588.5 1020.0 587.8 1030.0 588.0C1040.0 588.2 1051.0 589.2 1060.0 591.0C1069.0 592.8 1076.7 595.5 1084.0 599.0C1091.3 602.5 1098.0 607.2 1104.0 612.0C1110.0 616.8 1116.2 622.7 1120.0 628.0C1123.8 633.3 1125.8 638.7 1127.0 644.0C1128.2 649.3 1128.5 655.2 1127.0 660.0C1125.5 664.8 1122.5 669.3 1118.0 673.0C1113.5 676.7 1104.7 679.5 1100.0 682.0C1095.3 684.5 1091.7 687.0 1090.0 688.0C1085.0 691.3 1071.7 700.0 1060.0 708.0C1048.3 716.0 1034.3 727.0 1020.0 736.0C1005.7 745.0 981.7 757.7 974.0 762.0L940.0 790.0L800.0 800.0L772.0 726.0Z" fill="url(#gs2)" />
<g opacity="0.53"><use href="#upper" transform="rotate(-15.8 689.7 859.4)"/></g>
<path d="M790.0 760.0C792.2 757.0 798.5 746.5 803.0 742.0C807.5 737.5 807.5 737.3 817.0 733.0C826.5 728.7 846.2 721.8 860.0 716.0C873.8 710.2 886.7 702.7 900.0 698.0C913.3 693.3 926.7 690.2 940.0 688.0C953.3 685.8 966.7 685.5 980.0 685.0C993.3 684.5 1006.7 684.2 1020.0 685.0C1033.3 685.8 1048.3 687.8 1060.0 690.0C1071.7 692.2 1081.7 694.7 1090.0 698.0C1098.3 701.3 1103.3 705.0 1110.0 710.0C1116.7 715.0 1124.3 721.7 1130.0 728.0C1135.7 734.3 1140.8 741.7 1144.0 748.0C1147.2 754.3 1148.7 760.3 1149.0 766.0C1149.3 771.7 1148.2 777.3 1146.0 782.0C1143.8 786.7 1140.3 791.0 1136.0 794.0C1131.7 797.0 1125.3 798.3 1120.0 800.0C1114.7 801.7 1106.7 803.3 1104.0 804.0L1000.0 815.0L820.0 800.0L790.0 760.0Z" fill="url(#gs1)" />
<path d="M928.0 915.0L958.0 915.0L966.0 946.0L910.0 949.0L928.0 915.0Z" fill="url(#ribs)" />
<path d="M910.0 949.0L966.0 946.0C966.3 948.7 970.7 953.3 968.0 962.0C965.3 970.7 953.0 992.0 950.0 998.0L924.0 995.0L910.0 949.0Z" fill="#141415" />
<path d="M838.0 913.0L927.0 913.0C926.8 917.2 931.8 933.0 926.0 938.0C920.2 943.0 901.7 941.3 892.0 943.0C882.3 944.7 875.7 946.7 868.0 948.0C860.3 949.3 849.7 950.5 846.0 951.0L828.0 950.0L838.0 913.0Z" fill="#0e0e0f" />
<circle cx="869" cy="929" r="5.8" fill="#252527"/>
<rect x="834" y="949" width="33" height="15" rx="3" fill="#0d0d0e"/>
<rect x="838.5" y="962" width="5.5" height="40" fill="url(#rodg)" opacity="0.9"/>
<rect x="849" y="962" width="14" height="40" fill="url(#rodg)"/>
<rect x="826" y="1000" width="51" height="74" rx="2" fill="#121213"/>
<rect x="826" y="1000" width="49" height="8" rx="2" fill="#1f1f21"/>
<path d="M836.0 949.0C836.8 951.5 839.3 959.3 841.0 964.0C842.7 968.7 844.7 972.0 846.0 977.0C847.3 982.0 848.5 991.2 849.0 994.0" fill="none" stroke="#0c0c0d" stroke-width="3.4" stroke-linecap="round" stroke-linejoin="round" />
<path d="M830.0 1001.0L848.0 997.0L850.0 1012.0C842.0 1019.2 810.8 1047.5 802.0 1055.0C793.2 1062.5 797.8 1056.7 797.0 1057.0L787.0 1045.0L830.0 1001.0Z" fill="#1b1b1d" />
<path d="M838.0 1008.0L796.0 1049.0" fill="none" stroke="#3a3a3d" stroke-width="1.4" stroke-linecap="round" stroke-linejoin="round" />
<path d="M498.5 97 L509 96 L517.5 219 L507 221 Z" fill="#303135"/>
<path d="M505.3 100 L513.6 219" stroke="#e3e5e7" stroke-width="2.2" stroke-dasharray="1.8 3" fill="none"/>
<path d="M499.6 98 L508 220" stroke="#6d6f73" stroke-width="1.2" fill="none"/>
<path d="M511.2 98 L520 219" stroke="#1f2023" stroke-width="3.6" fill="none"/>
<path d="M510.6 98 L519.3 219" stroke="#eef0f1" stroke-width="1.5" fill="none"/>
<path d="M465.3 294.7C465.9 295.7 466.2 299.8 468.7 300.5C471.1 301.2 476.8 299.4 480.0 298.7C483.2 297.9 486.7 296.4 488.0 296.0L486.5 264.7C485.2 260.9 481.1 249.4 479.0 242.0C476.9 234.6 475.2 227.0 474.0 220.0C472.8 213.0 472.2 206.7 472.0 200.0C471.8 193.3 472.0 186.0 473.0 180.0C474.0 174.0 475.5 168.7 478.0 164.0C480.5 159.3 484.3 155.3 488.0 152.0C491.7 148.7 496.0 146.0 500.0 144.0C504.0 142.0 508.7 141.3 512.0 140.0C515.3 138.7 518.7 136.7 520.0 136.0C520.4 134.7 522.5 130.4 522.4 128.0C522.3 125.6 520.9 123.1 519.2 121.6C517.5 120.1 515.9 119.8 512.0 119.0C508.1 118.2 500.7 117.0 496.0 117.0C491.3 117.0 488.0 117.5 484.0 119.0C480.0 120.5 476.0 122.8 472.0 126.0C468.0 129.2 463.3 133.7 460.0 138.0C456.7 142.3 454.0 146.7 452.0 152.0C450.0 157.3 448.7 163.3 448.0 170.0C447.3 176.7 447.3 183.7 447.6 192.0C447.9 200.3 448.6 210.7 449.6 220.0C450.6 229.3 452.8 243.6 453.6 248.0C454.5 252.4 453.6 242.5 454.7 246.7C455.8 250.9 458.2 265.0 460.0 273.0C461.8 281.0 464.4 291.1 465.3 294.7Z" fill="#2b2b2d" />
<path d="M466.0 134.0C464.3 137.0 458.3 146.0 456.0 152.0C453.7 158.0 453.1 163.3 452.4 170.0C451.7 176.7 451.7 183.7 452.0 192.0C452.3 200.3 453.0 210.7 454.0 220.0C455.0 229.3 457.2 242.2 458.0 248.0C458.8 253.8 457.7 248.8 459.0 255.0C460.3 261.2 464.8 280.0 466.0 285.0" fill="none" stroke="#3f3f42" stroke-width="7" stroke-linecap="round" stroke-linejoin="round" opacity="0.9"/>
<path d="M504.0 141.0C501.7 142.3 494.2 145.5 490.0 149.0C485.8 152.5 481.7 156.8 479.0 162.0C476.3 167.2 474.7 173.7 473.6 180.0C472.5 186.3 472.3 193.3 472.4 200.0C472.5 206.7 473.2 213.0 474.4 220.0C475.6 227.0 478.1 236.2 479.6 242.0C481.1 247.8 482.9 252.8 483.5 255.0" fill="none" stroke="#151516" stroke-width="2.5" stroke-linecap="round" stroke-linejoin="round" />
<ellipse cx="507" cy="128" rx="15" ry="11.5" transform="rotate(12 507 128)" fill="#29292b"/>
<circle cx="504" cy="128.5" r="6.6" fill="#0f0f10"/><circle cx="504" cy="128.5" r="3" fill="#2e2e31"/>
<path d="M495.6 83.0C496.0 82.0 496.6 78.4 498.0 77.0C499.4 75.6 501.0 74.7 504.0 74.4C507.0 74.1 512.0 74.4 516.0 75.0C520.0 75.6 524.0 76.3 528.0 78.0C532.0 79.7 536.0 82.0 540.0 85.0C544.0 88.0 548.0 91.8 552.0 96.0C556.0 100.2 560.0 104.7 564.0 110.0C568.0 115.3 572.3 122.0 576.0 128.0C579.7 134.0 583.0 140.0 586.0 146.0C589.0 152.0 592.0 158.7 594.0 164.0C596.0 169.3 597.5 173.3 598.0 178.0C598.5 182.7 598.0 187.3 597.0 192.0C596.0 196.7 594.5 201.7 592.0 206.0C589.5 210.3 585.7 214.3 582.0 218.0C578.3 221.7 574.3 224.7 570.0 228.0C565.7 231.3 561.0 234.8 556.0 238.0C551.0 241.2 545.3 244.7 540.0 247.0C534.7 249.3 528.7 250.8 524.0 251.6C519.3 252.4 515.3 252.6 512.0 252.0C508.7 251.4 506.1 250.0 504.4 248.0C502.7 246.0 501.7 242.7 501.6 240.0C501.5 237.3 502.3 234.5 504.0 232.0C505.7 229.5 509.3 227.0 512.0 225.0C514.7 223.0 518.7 220.8 520.0 220.0C522.0 219.3 528.0 218.3 532.0 216.0C536.0 213.7 540.7 210.0 544.0 206.0C547.3 202.0 550.2 196.7 552.0 192.0C553.8 187.3 554.8 182.7 555.0 178.0C555.2 173.3 554.2 168.7 553.0 164.0C551.8 159.3 550.2 154.7 548.0 150.0C545.8 145.3 543.0 140.7 540.0 136.0C537.0 131.3 533.3 126.3 530.0 122.0C526.7 117.7 523.0 113.3 520.0 110.0C517.0 106.7 514.7 104.2 512.0 102.0C509.3 99.8 506.7 98.5 504.0 97.0C501.3 95.5 497.0 93.7 495.6 93.0L495.6 83.0Z" fill="#2d2d30" />
<path d="M500.0 86.0C502.0 85.8 507.3 84.3 512.0 85.0C516.7 85.7 522.7 87.2 528.0 90.0C533.3 92.8 539.0 97.0 544.0 102.0C549.0 107.0 553.7 113.7 558.0 120.0C562.3 126.3 566.7 133.3 570.0 140.0C573.3 146.7 576.2 153.7 578.0 160.0C579.8 166.3 581.0 172.3 581.0 178.0C581.0 183.7 579.8 189.0 578.0 194.0C576.2 199.0 573.7 203.7 570.0 208.0C566.3 212.3 561.0 216.7 556.0 220.0C551.0 223.3 545.3 226.0 540.0 228.0C534.7 230.0 526.7 231.3 524.0 232.0" fill="none" stroke="#47474a" stroke-width="14" stroke-linecap="round" stroke-linejoin="round" opacity="0.75"/>
<path d="M575.5 125.0C577.4 128.3 583.8 138.5 587.0 145.0C590.2 151.5 592.8 158.2 595.0 164.0C597.2 169.8 599.3 174.7 600.0 180.0C600.7 185.3 600.0 190.9 599.0 196.0C598.0 201.1 596.7 206.0 594.0 210.7C591.3 215.4 588.2 219.3 583.0 224.0C577.8 228.7 569.7 234.7 563.0 238.7C556.3 242.7 549.7 245.8 543.0 248.0C536.3 250.2 528.5 251.6 523.0 252.0C517.5 252.4 513.3 252.0 510.0 250.7C506.7 249.4 504.2 245.1 503.0 244.0C503.3 243.8 502.4 242.7 504.7 242.7C507.0 242.7 511.4 244.7 516.7 244.0C522.0 243.3 530.0 241.2 536.7 238.7C543.4 236.2 551.0 232.3 556.7 229.0C562.4 225.7 566.8 222.4 571.0 218.7C575.2 215.0 579.2 211.0 582.0 206.7C584.8 202.4 586.7 197.4 588.0 193.0C589.3 188.6 589.9 184.8 590.0 180.0C590.1 175.2 589.9 169.8 588.7 164.0C587.5 158.2 585.3 151.2 583.0 145.0C580.7 138.8 576.2 130.0 575.0 126.7C573.8 123.4 575.4 125.3 575.5 125.0Z" fill="#1c1c1e" />
<path d="M575.0 126.7C576.3 129.8 580.7 138.8 583.0 145.0C585.3 151.2 587.5 158.2 588.7 164.0C589.9 169.8 590.1 175.2 590.0 180.0C589.9 184.8 589.3 188.6 588.0 193.0C586.7 197.4 584.8 202.4 582.0 206.7C579.2 211.0 575.2 215.0 571.0 218.7C566.8 222.4 562.4 225.7 556.7 229.0C551.0 232.3 543.4 236.2 536.7 238.7C530.0 241.2 521.8 243.3 516.7 244.0C511.6 244.7 507.8 243.2 506.0 243.0" fill="none" stroke="#5c5c60" stroke-width="1.1" stroke-linecap="round" stroke-linejoin="round" opacity="0.8"/>
<path d="M496.4 85.0L497.2 92.4" fill="none" stroke="#19191a" stroke-width="4" stroke-linecap="round" stroke-linejoin="round" /><path d="M504.0 261.0C505.8 261.6 510.9 263.4 514.7 264.7C518.5 266.0 522.7 267.1 526.7 269.0C530.7 270.9 534.7 273.1 538.7 276.0C542.7 278.9 546.7 282.7 550.7 286.7C554.7 290.7 559.0 295.1 562.7 300.0C566.4 304.9 569.7 310.5 573.0 316.0C576.3 321.5 579.8 326.8 582.7 333.0C585.7 339.2 587.8 346.3 590.7 353.0C593.6 359.7 597.1 366.3 600.0 373.0C602.9 379.7 605.8 388.0 608.0 393.0C610.2 398.0 610.3 396.8 613.0 403.0C615.7 409.2 620.4 421.1 624.0 430.0C627.6 438.9 630.9 447.9 634.7 456.7C638.5 465.5 642.5 473.8 646.7 483.0C650.9 492.2 656.5 504.7 660.0 512.0C663.5 519.3 665.2 522.2 668.0 527.0C670.8 531.8 673.3 535.5 677.0 541.0C680.7 546.5 686.0 553.5 690.0 560.0C694.0 566.5 698.3 573.3 701.3 580.0C704.3 586.7 706.0 593.3 708.0 600.0C710.0 606.7 712.2 614.5 713.3 620.0C714.4 625.5 714.2 626.3 714.7 633.0C715.2 639.7 716.5 650.5 716.0 660.0C715.5 669.5 714.7 683.3 712.0 690.0C709.3 696.7 700.5 702.8 700.0 700.0C699.5 697.2 708.4 679.7 709.3 673.0C710.2 666.3 706.8 665.5 705.3 660.0C703.8 654.5 701.8 646.7 700.0 640.0C698.2 633.3 696.7 626.7 694.7 620.0C692.7 613.3 690.5 606.2 688.0 600.0C685.5 593.8 683.3 588.8 680.0 583.0C676.7 577.2 672.5 571.2 668.0 565.0C663.5 558.8 657.8 552.2 653.3 546.0C648.8 539.8 644.5 534.0 641.0 528.0C637.5 522.0 635.5 517.5 632.0 510.0C628.5 502.5 624.0 491.9 620.0 483.0C616.0 474.1 611.5 465.5 608.0 456.7C604.5 447.9 601.9 438.9 598.7 430.0C595.5 421.1 592.3 411.8 589.0 403.0C585.7 394.2 581.8 384.8 578.7 377.0C575.7 369.2 573.4 362.7 570.7 356.0C568.0 349.3 565.4 343.0 562.7 337.0C560.0 331.0 557.7 325.7 554.7 320.0C551.8 314.3 548.6 308.2 545.0 302.7C541.4 297.1 537.2 291.6 533.0 286.7C528.8 281.8 524.7 277.1 520.0 273.0C515.3 268.9 507.7 264.0 505.0 262.0C502.3 260.0 504.2 261.2 504.0 261.0Z" fill="url(#meshpat)" />
<path d="M504.0 261.0C505.8 261.6 510.9 263.4 514.7 264.7C518.5 266.0 522.7 267.1 526.7 269.0C530.7 270.9 534.7 273.1 538.7 276.0C542.7 278.9 546.7 282.7 550.7 286.7C554.7 290.7 559.0 295.1 562.7 300.0C566.4 304.9 569.7 310.5 573.0 316.0C576.3 321.5 579.8 326.8 582.7 333.0C585.7 339.2 587.8 346.3 590.7 353.0C593.6 359.7 597.1 366.3 600.0 373.0C602.9 379.7 605.8 388.0 608.0 393.0C610.2 398.0 610.3 396.8 613.0 403.0C615.7 409.2 620.4 421.1 624.0 430.0C627.6 438.9 630.9 447.9 634.7 456.7C638.5 465.5 642.5 473.8 646.7 483.0C650.9 492.2 656.5 504.7 660.0 512.0C663.5 519.3 665.2 522.2 668.0 527.0C670.8 531.8 673.3 535.5 677.0 541.0C680.7 546.5 686.0 553.5 690.0 560.0C694.0 566.5 698.3 573.3 701.3 580.0C704.3 586.7 706.0 593.3 708.0 600.0C710.0 606.7 712.2 614.5 713.3 620.0C714.4 625.5 714.2 626.3 714.7 633.0C715.2 639.7 716.5 650.5 716.0 660.0C715.5 669.5 712.7 685.0 712.0 690.0" fill="none" stroke="#232326" stroke-width="2.2" stroke-linecap="round" stroke-linejoin="round" />
<path d="M486.0 264.7C488.3 264.0 497.0 261.3 500.0 260.7C503.0 260.1 503.3 260.9 504.0 261.0C506.7 263.0 515.2 268.7 520.0 273.0C524.8 277.3 528.8 281.8 533.0 286.7C537.2 291.6 541.4 297.1 545.0 302.7C548.6 308.2 551.8 314.3 554.7 320.0C557.7 325.7 560.0 331.0 562.7 337.0C565.4 343.0 568.0 349.3 570.7 356.0C573.4 362.7 575.7 369.2 578.7 377.0C581.8 384.8 585.7 394.2 589.0 403.0C592.3 411.8 595.5 421.1 598.7 430.0C601.9 438.9 604.5 447.9 608.0 456.7C611.5 465.5 616.0 474.1 620.0 483.0C624.0 491.9 628.5 502.5 632.0 510.0C635.5 517.5 637.5 522.0 641.0 528.0C644.5 534.0 648.8 539.8 653.3 546.0C657.8 552.2 663.5 558.8 668.0 565.0C672.5 571.2 676.7 577.2 680.0 583.0C683.3 588.8 685.5 593.8 688.0 600.0C690.5 606.2 692.7 613.3 694.7 620.0C696.7 626.7 698.2 633.3 700.0 640.0C701.8 646.7 703.8 654.5 705.3 660.0C706.8 665.5 708.2 666.3 709.3 673.0C710.4 679.7 711.5 695.5 712.0 700.0C710.0 711.7 704.5 757.2 700.0 770.0C695.5 782.8 688.8 774.2 685.0 777.0C681.2 779.8 680.0 782.7 677.0 787.0C674.0 791.3 671.4 798.1 666.7 802.7C662.0 807.3 655.7 811.6 649.0 814.7C642.3 817.8 635.2 820.5 626.7 821.5C618.2 822.5 602.8 820.7 598.0 820.5C598.5 819.1 600.2 816.2 601.0 812.0C601.8 807.8 603.0 802.0 603.0 795.0C603.0 788.0 601.8 778.3 601.0 770.0C600.2 761.7 599.0 753.3 598.0 745.0C597.0 736.7 595.9 727.5 594.7 720.0C593.5 712.5 592.3 706.7 590.7 700.0C589.1 693.3 587.3 686.7 585.3 680.0C583.3 673.3 581.1 666.7 578.7 660.0C576.3 653.3 573.2 646.0 570.7 640.0C568.2 634.0 565.8 628.2 564.0 624.0C562.2 619.8 560.7 616.2 560.0 614.7C560.8 613.4 563.2 610.3 564.7 606.7C566.2 603.1 567.5 598.6 568.7 593.0C569.9 587.4 571.3 580.2 572.0 573.0C572.7 565.8 572.6 556.0 572.7 550.0C572.8 544.0 573.0 543.4 572.7 536.7C572.4 530.0 571.7 519.0 570.7 510.0C569.7 501.1 568.5 491.9 566.7 483.0C564.9 474.1 562.3 465.5 560.0 456.7C557.7 447.9 555.5 438.9 553.0 430.0C550.5 421.1 547.5 410.7 545.3 403.0C543.1 395.3 542.2 390.5 540.0 384.0C537.8 377.5 534.9 370.7 532.0 364.0C529.1 357.3 525.9 350.2 522.7 344.0C519.5 337.8 516.3 332.2 513.0 326.7C509.7 321.1 506.0 315.1 502.7 310.7C499.4 306.2 495.4 302.4 493.0 300.0C490.6 297.6 488.8 296.7 488.0 296.0C487.2 295.3 488.0 296.0 488.0 296.0L486.0 264.7Z" fill="#2a2a2c" />
<path d="M486.0 264.7C487.8 266.1 493.2 269.3 497.0 273.0C500.8 276.7 505.2 281.8 509.0 286.7C512.8 291.6 516.4 297.0 520.0 302.7C523.6 308.4 527.4 314.8 530.7 321.0C534.0 327.2 537.0 333.5 540.0 340.0C543.0 346.5 546.2 353.3 549.0 360.0C551.8 366.7 554.3 373.3 557.0 380.0C559.7 386.7 562.3 393.3 565.0 400.0C567.7 406.7 571.0 415.0 573.0 420.0C575.0 425.0 574.7 423.9 577.0 430.0C579.3 436.1 583.5 447.9 586.7 456.7C589.9 465.5 593.0 474.1 596.0 483.0C599.0 491.9 602.2 501.1 605.0 510.0C607.8 519.0 610.8 529.2 613.0 536.7C615.2 544.2 616.3 549.0 618.0 555.0C619.7 561.0 620.9 565.5 623.0 573.0C625.1 580.5 628.5 591.0 630.7 600.0C632.9 609.0 634.5 618.9 636.0 626.7C637.5 634.5 638.5 641.2 640.0 646.7C641.5 652.2 644.2 657.8 645.0 660.0C645.8 662.2 645.0 660.0 645.0 660.0C637.5 656.7 611.7 645.8 600.0 640.0C588.3 634.2 581.7 629.2 575.0 625.0C568.3 620.8 562.5 616.4 560.0 614.7C560.8 613.4 563.2 610.3 564.7 606.7C566.2 603.1 567.5 598.6 568.7 593.0C569.9 587.4 571.3 580.2 572.0 573.0C572.7 565.8 572.6 556.0 572.7 550.0C572.8 544.0 573.0 543.4 572.7 536.7C572.4 530.0 571.7 519.0 570.7 510.0C569.7 501.1 568.5 491.9 566.7 483.0C564.9 474.1 562.3 465.5 560.0 456.7C557.7 447.9 555.5 438.9 553.0 430.0C550.5 421.1 547.5 410.7 545.3 403.0C543.1 395.3 542.2 390.5 540.0 384.0C537.8 377.5 534.9 370.7 532.0 364.0C529.1 357.3 525.9 350.2 522.7 344.0C519.5 337.8 516.3 332.2 513.0 326.7C509.7 321.1 506.0 315.1 502.7 310.7C499.4 306.2 495.4 302.4 493.0 300.0C490.6 297.6 488.8 296.7 488.0 296.0C487.2 295.3 488.0 296.0 488.0 296.0L486.0 264.7Z" fill="#3d3d40" />
<path d="M486.0 264.7C487.8 266.1 493.2 269.3 497.0 273.0C500.8 276.7 505.2 281.8 509.0 286.7C512.8 291.6 516.4 297.0 520.0 302.7C523.6 308.4 527.4 314.8 530.7 321.0C534.0 327.2 537.0 333.5 540.0 340.0C543.0 346.5 546.2 353.3 549.0 360.0C551.8 366.7 554.3 373.3 557.0 380.0C559.7 386.7 562.3 393.3 565.0 400.0C567.7 406.7 571.0 415.0 573.0 420.0C575.0 425.0 574.7 423.9 577.0 430.0C579.3 436.1 583.5 447.9 586.7 456.7C589.9 465.5 593.0 474.1 596.0 483.0C599.0 491.9 602.2 501.1 605.0 510.0C607.8 519.0 610.8 529.2 613.0 536.7C615.2 544.2 616.3 549.0 618.0 555.0C619.7 561.0 620.9 565.5 623.0 573.0C625.1 580.5 628.5 591.0 630.7 600.0C632.9 609.0 634.5 618.9 636.0 626.7C637.5 634.5 638.5 641.2 640.0 646.7C641.5 652.2 644.2 657.8 645.0 660.0" fill="none" stroke="#55555a" stroke-width="1.2" stroke-linecap="round" stroke-linejoin="round" opacity="0.7"/>
<path d="M505.0 262.0C507.5 263.8 515.3 268.9 520.0 273.0C524.7 277.1 528.8 281.8 533.0 286.7C537.2 291.6 541.4 297.1 545.0 302.7C548.6 308.2 551.8 314.3 554.7 320.0C557.7 325.7 560.0 331.0 562.7 337.0C565.4 343.0 568.0 349.3 570.7 356.0C573.4 362.7 575.7 369.2 578.7 377.0C581.8 384.8 585.7 394.2 589.0 403.0C592.3 411.8 595.5 421.1 598.7 430.0C601.9 438.9 604.5 447.9 608.0 456.7C611.5 465.5 616.0 474.1 620.0 483.0C624.0 491.9 628.5 502.5 632.0 510.0C635.5 517.5 637.5 522.0 641.0 528.0C644.5 534.0 648.8 539.8 653.3 546.0C657.8 552.2 663.5 558.8 668.0 565.0C672.5 571.2 676.7 577.2 680.0 583.0C683.3 588.8 685.5 593.8 688.0 600.0C690.5 606.2 692.7 613.3 694.7 620.0C696.7 626.7 698.2 633.3 700.0 640.0C701.8 646.7 703.8 654.5 705.3 660.0C706.8 665.5 708.6 670.8 709.3 673.0" fill="none" stroke="#8d8f93" stroke-width="1.3" stroke-linecap="round" stroke-linejoin="round" opacity="0.85"/><path d="M570.4 622.0C572.3 628.7 577.9 648.7 581.6 662.0C585.3 675.3 589.3 688.7 592.8 702.0C596.3 715.3 600.0 730.0 602.4 742.0C604.8 754.0 606.1 765.2 607.2 774.0C608.3 782.8 608.5 791.5 608.8 795.0" fill="none" stroke="#161617" stroke-width="1.7" stroke-linecap="round" stroke-linejoin="round" />
<path d="M573.6 620.8C575.5 627.5 581.1 647.6 584.8 661.0C588.5 674.4 592.3 687.7 595.6 701.0C598.9 714.3 602.4 729.0 604.6 741.0C606.8 753.0 608.1 764.2 609.0 773.0C609.9 781.8 610.0 790.3 610.2 793.8" fill="none" stroke="#4a4a4e" stroke-width="1.7" stroke-linecap="round" stroke-linejoin="round" />
<path d="M576.8 619.6C578.7 626.3 584.4 646.6 588.0 660.0C591.6 673.4 595.3 686.7 598.4 700.0C601.5 713.3 604.7 728.0 606.8 740.0C608.9 752.0 610.0 763.2 610.8 772.0C611.6 780.8 611.5 789.1 611.6 792.5" fill="none" stroke="#161617" stroke-width="1.7" stroke-linecap="round" stroke-linejoin="round" />
<path d="M580.0 618.4C581.9 625.2 587.7 645.6 591.2 659.0C594.7 672.4 598.2 685.7 601.2 699.0C604.2 712.3 607.1 727.0 609.0 739.0C610.9 751.0 611.9 762.3 612.6 771.0C613.3 779.7 612.9 787.9 613.0 791.2" fill="none" stroke="#4a4a4e" stroke-width="1.7" stroke-linecap="round" stroke-linejoin="round" />
<path d="M583.2 617.2C585.1 624.0 590.9 644.5 594.4 658.0C597.9 671.5 601.2 684.7 604.0 698.0C606.8 711.3 609.5 726.0 611.2 738.0C612.9 750.0 613.9 761.3 614.4 770.0C614.9 778.7 614.4 786.7 614.4 790.0" fill="none" stroke="#161617" stroke-width="1.7" stroke-linecap="round" stroke-linejoin="round" />
<path d="M586.4 616.0C588.3 622.8 594.2 643.5 597.6 657.0C601.0 670.5 604.2 683.7 606.8 697.0C609.4 710.3 611.8 725.0 613.4 737.0C615.0 749.0 615.8 760.4 616.2 769.0C616.6 777.6 615.9 785.5 615.8 788.8" fill="none" stroke="#4a4a4e" stroke-width="1.7" stroke-linecap="round" stroke-linejoin="round" />
<path d="M589.6 614.8C591.5 621.7 597.5 642.5 600.8 656.0C604.1 669.5 607.1 682.7 609.6 696.0C612.1 709.3 614.2 724.0 615.6 736.0C617.0 748.0 617.7 759.4 618.0 768.0C618.3 776.6 617.3 784.2 617.2 787.5" fill="none" stroke="#161617" stroke-width="1.7" stroke-linecap="round" stroke-linejoin="round" />
<path d="M592.8 613.6C594.7 620.5 600.7 641.4 604.0 655.0C607.3 668.6 610.1 681.7 612.4 695.0C614.7 708.3 616.6 723.0 617.8 735.0C619.0 747.0 619.7 758.5 619.8 767.0C619.9 775.5 618.8 783.0 618.6 786.2" fill="none" stroke="#4a4a4e" stroke-width="1.7" stroke-linecap="round" stroke-linejoin="round" />
<path d="M596.0 612.4C597.9 619.3 604.0 640.4 607.2 654.0C610.4 667.6 613.1 680.7 615.2 694.0C617.3 707.3 618.9 722.0 620.0 734.0C621.1 746.0 621.6 757.5 621.6 766.0C621.6 774.5 620.3 781.8 620.0 785.0" fill="none" stroke="#161617" stroke-width="1.7" stroke-linecap="round" stroke-linejoin="round" />
<path d="M603.0 812.0C604.8 811.7 609.8 811.8 614.0 810.0C618.2 808.2 623.0 805.2 628.0 801.0C633.0 796.8 639.5 790.0 644.0 785.0C648.5 780.0 651.5 774.7 655.0 771.0C658.5 767.3 663.3 764.3 665.0 763.0" fill="none" stroke="#48484c" stroke-width="1.5" stroke-linecap="round" stroke-linejoin="round" />
<path d="M607.0 803.0C609.2 802.2 615.7 800.8 620.0 798.0C624.3 795.2 628.7 790.7 633.0 786.0C637.3 781.3 643.8 772.7 646.0 770.0" fill="none" stroke="#1a1a1c" stroke-width="1.5" stroke-linecap="round" stroke-linejoin="round" />
<path d="M640.0 647.0C646.3 641.2 669.7 649.5 678.0 655.0C686.3 660.5 685.7 672.5 690.0 680.0C694.3 687.5 704.0 693.3 704.0 700.0C704.0 706.7 694.7 712.5 690.0 720.0C685.3 727.5 679.7 738.3 676.0 745.0C672.3 751.7 672.0 755.8 668.0 760.0C664.0 764.2 657.0 770.3 652.0 770.0C647.0 769.7 641.0 766.3 638.0 758.0C635.0 749.7 633.7 731.3 634.0 720.0C634.3 708.7 639.0 702.2 640.0 690.0C641.0 677.8 633.7 652.8 640.0 647.0Z" fill="#333336" />
<path d="M640.0 627.0C646.3 624.7 672.2 629.3 678.7 634.0C685.2 638.7 685.3 652.7 679.0 655.0C672.7 657.3 647.5 652.7 641.0 648.0C634.5 643.3 633.7 629.3 640.0 627.0Z" fill="#444447" />
<circle cx="658" cy="701.3" r="9.5" fill="#0d0d0e"/><circle cx="659" cy="702.3" r="4" fill="#232325"/>
<circle cx="656" cy="745.3" r="9.5" fill="#0d0d0e"/><circle cx="657" cy="746.3" r="4" fill="#232325"/><path d="M755.0 692.0C758.0 694.7 766.7 701.2 773.0 708.0C779.3 714.8 787.3 725.2 793.0 733.0C798.7 740.8 803.3 748.0 807.0 755.0C810.7 762.0 813.2 769.8 815.0 775.0C816.8 780.2 817.5 784.2 818.0 786.0" fill="none" stroke="#131314" stroke-width="15" stroke-linecap="round" stroke-linejoin="round" />
<path d="M702.7 790.7C711.9 789.8 722.5 796.2 722.0 798.7C721.5 801.2 706.3 803.5 700.0 806.0C693.7 808.5 689.5 814.3 684.0 814.0C678.5 813.7 663.6 807.9 666.7 804.0C669.8 800.1 693.5 791.6 702.7 790.7Z" fill="#7c7c7e" />
<path d="M741.0 712.0C743.8 706.7 749.3 694.3 755.0 694.0C760.7 693.7 768.3 703.0 775.0 710.0C781.7 717.0 789.2 727.7 795.0 736.0C800.8 744.3 808.2 750.7 810.0 760.0C811.8 769.3 808.5 790.7 806.0 792.0C803.5 793.3 799.7 775.7 795.0 768.0C790.3 760.3 783.8 752.2 778.0 746.0C772.2 739.8 766.7 734.3 760.0 731.0C753.3 727.7 741.2 729.2 738.0 726.0C734.8 722.8 738.2 717.3 741.0 712.0Z" fill="#747476" />
<path d="M645.0 872.0C645.8 866.4 647.2 860.0 651.7 853.0C656.2 846.0 665.3 836.8 671.7 830.0C678.1 823.2 683.6 816.8 690.0 812.0C696.4 807.2 700.8 804.7 710.0 801.0C719.2 797.3 726.7 793.3 745.0 790.0C763.3 786.7 798.7 783.5 820.0 781.0C841.3 778.5 850.8 776.0 873.0 774.7C895.2 773.4 930.7 772.6 953.0 773.0C975.3 773.4 991.1 774.7 1006.7 777.0C1022.3 779.3 1033.4 782.4 1046.7 786.7C1060.0 791.0 1075.7 797.4 1086.7 802.7C1097.8 808.0 1105.0 813.0 1113.0 818.7C1121.0 824.4 1128.9 830.8 1134.7 837.0C1140.5 843.2 1145.0 849.7 1148.0 856.0C1151.0 862.3 1152.3 868.5 1153.0 874.7C1153.7 880.9 1153.3 887.3 1152.0 893.0C1150.7 898.7 1147.9 904.5 1145.0 909.0C1142.1 913.5 1140.0 917.3 1134.7 920.0C1129.4 922.7 1121.0 924.2 1113.0 925.0C1105.0 925.8 1100.0 925.7 1086.7 925.0C1073.4 924.3 1050.8 922.2 1033.0 921.0C1015.2 919.8 997.7 918.5 980.0 918.0C962.3 917.5 944.5 917.8 926.7 918.0C908.9 918.2 888.0 918.5 873.0 919.0C858.0 919.5 850.8 920.5 837.0 921.0C823.2 921.5 802.3 921.9 790.0 922.0C777.7 922.1 773.0 921.8 763.0 921.7C753.0 921.7 741.0 922.3 730.0 921.7C719.0 921.1 706.4 919.7 696.7 918.0C687.0 916.3 678.7 914.7 671.7 911.7C664.8 908.7 659.2 904.2 655.0 900.0C650.8 895.8 648.4 891.4 646.7 886.7C645.0 882.0 644.2 877.6 645.0 872.0Z" fill="url(#seatg)" />
<path d="M840.0 781.0C850.0 780.2 880.0 776.8 900.0 776.0C920.0 775.2 941.7 775.2 960.0 776.0C978.3 776.8 995.0 778.5 1010.0 781.0C1025.0 783.5 1036.7 786.5 1050.0 791.0C1063.3 795.5 1078.7 802.0 1090.0 808.0C1101.3 814.0 1110.0 820.3 1118.0 827.0C1126.0 833.7 1133.2 840.8 1138.0 848.0C1142.8 855.2 1145.5 866.3 1147.0 870.0" fill="none" stroke="#3a3a3d" stroke-width="3" stroke-linecap="round" stroke-linejoin="round" opacity="0.55" filter="url(#blur2)"/>
<path d="M764.0 592.0C770.0 591.0 784.0 587.8 800.0 586.0C816.0 584.2 840.0 581.8 860.0 581.0C880.0 580.2 905.3 580.5 920.0 581.0C934.7 581.5 942.0 582.5 948.0 584.0C954.0 585.5 954.8 588.3 956.0 590.0C957.2 591.7 957.7 592.7 955.0 594.0C952.3 595.3 952.5 597.0 940.0 598.0C927.5 599.0 900.0 599.3 880.0 600.0C860.0 600.7 836.7 601.0 820.0 602.0C803.3 603.0 790.0 603.0 780.0 606.0C770.0 609.0 766.7 614.7 760.0 620.0C753.3 625.3 745.7 632.7 740.0 638.0C734.3 643.3 730.7 643.3 726.0 652.0C721.3 660.7 714.3 683.7 712.0 690.0L690.0 690.0C691.7 685.0 695.5 668.8 700.0 660.0C704.5 651.2 714.0 641.7 717.0 637.0C720.0 632.3 714.2 636.2 718.0 632.0C721.8 627.8 732.3 618.7 740.0 612.0C747.7 605.3 760.0 595.3 764.0 592.0Z" fill="#222224" />
<path d="M770.0 592.0C775.0 591.4 785.0 589.9 800.0 588.5C815.0 587.1 840.0 584.3 860.0 583.5C880.0 582.7 905.7 583.0 920.0 583.5C934.3 584.0 941.7 586.0 946.0 586.5" fill="none" stroke="#3d3d41" stroke-width="2.2" stroke-linecap="round" stroke-linejoin="round" opacity="0.9"/>
<path d="M790.0 603.0C795.0 602.2 805.0 599.6 820.0 598.5C835.0 597.4 860.0 597.2 880.0 596.5C900.0 595.8 927.8 595.2 940.0 594.5C952.2 593.8 950.8 592.4 953.0 592.0" fill="none" stroke="#0b0b0c" stroke-width="2.4" stroke-linecap="round" stroke-linejoin="round" />
<path d="M736.0 722.0C740.0 724.3 753.5 731.3 760.0 736.0C766.5 740.7 769.3 744.3 775.0 750.0C780.7 755.7 788.7 763.3 794.0 770.0C799.3 776.7 803.0 782.2 807.0 790.0C811.0 797.8 814.8 807.9 818.0 816.7C821.2 825.5 823.8 834.1 826.0 843.0C828.2 851.9 829.5 861.0 831.0 870.0C832.5 879.0 833.8 887.9 835.0 896.7C836.2 905.5 837.3 915.3 838.0 923.0C838.7 930.7 838.8 939.7 839.0 943.0C837.5 943.7 837.0 946.2 830.0 947.0C823.0 947.8 807.0 948.2 797.0 948.0C787.0 947.8 774.5 946.3 770.0 946.0C769.5 944.5 767.4 941.6 766.7 936.7C766.0 931.8 766.3 924.5 766.0 916.7C765.7 908.9 765.6 899.0 764.7 890.0C763.8 881.0 762.7 871.9 760.7 863.0C758.7 854.1 756.0 845.5 752.7 836.7C749.4 827.9 745.7 817.8 740.7 810.0C735.8 802.2 729.3 795.5 723.0 790.0C716.7 784.5 706.3 778.9 703.0 776.7L700.0 750.0L736.0 722.0Z" fill="#242426" />
<path d="M728.7 772.7C730.0 770.9 733.8 764.4 736.7 762.0C739.6 759.6 744.5 759.1 746.0 758.5C748.2 761.5 755.0 770.3 759.0 776.7C763.0 783.1 766.8 790.0 770.0 796.7C773.2 803.4 775.8 810.0 778.0 816.7C780.2 823.4 781.9 831.4 783.0 836.7C784.1 842.0 784.4 846.7 784.7 848.7C784.0 848.2 782.7 849.1 780.7 846.0C778.7 842.9 776.3 836.7 772.7 830.0C769.1 823.3 764.0 813.3 759.0 806.0C754.0 798.7 748.0 791.5 743.0 786.0C738.0 780.5 731.1 774.9 728.7 772.7Z" fill="url(#cutg)" />
<path d="M730.0 774.0C732.2 776.0 738.2 780.7 743.0 786.0C747.8 791.3 754.0 798.7 759.0 806.0C764.0 813.3 769.1 823.5 772.7 830.0C776.3 836.5 779.2 842.5 780.5 845.0" fill="none" stroke="#b4b6ba" stroke-width="1.6" stroke-linecap="round" stroke-linejoin="round" opacity="0.85"/>
<path d="M784.7 850.0C785.4 853.3 788.0 862.2 788.7 870.0C789.4 877.8 789.2 887.9 788.7 896.7C788.2 905.5 787.0 915.3 786.0 923.0C785.0 930.7 783.5 939.7 783.0 943.0" fill="none" stroke="#3b3b3e" stroke-width="1.4" stroke-linecap="round" stroke-linejoin="round" opacity="0.8"/>
<path d="M780.0 752.0C783.0 755.3 792.7 764.7 798.0 772.0C803.3 779.3 808.0 787.3 812.0 796.0C816.0 804.7 819.2 814.7 822.0 824.0C824.8 833.3 827.2 842.7 829.0 852.0C830.8 861.3 831.8 869.5 833.0 880.0C834.2 890.5 835.3 905.0 836.0 915.0C836.7 925.0 836.8 935.8 837.0 940.0" fill="none" stroke="#343437" stroke-width="3.5" stroke-linecap="round" stroke-linejoin="round" opacity="0.7"/>
<path d="M760.0 637.0C770.0 636.2 800.0 633.2 820.0 632.0C840.0 630.8 860.0 630.2 880.0 630.0C900.0 629.8 925.0 630.3 940.0 631.0C955.0 631.7 963.5 632.5 970.0 634.0C976.5 635.5 978.0 638.0 979.0 640.0C980.0 642.0 982.5 644.5 976.0 646.0C969.5 647.5 956.0 648.3 940.0 649.0C924.0 649.7 900.0 649.2 880.0 650.0C860.0 650.8 834.5 651.5 820.0 653.5C805.5 655.5 800.4 658.8 793.3 662.0C786.2 665.2 782.2 669.3 777.3 673.0C772.4 676.7 768.4 679.7 764.0 684.0C759.6 688.3 754.7 693.6 750.7 698.7C746.7 703.8 742.5 709.8 740.0 714.7C737.5 719.6 736.7 725.8 736.0 728.0L700.0 760.0L672.0 725.0C672.9 723.3 674.8 719.1 677.3 714.7C679.8 710.3 682.5 704.3 686.7 698.7C690.9 693.1 696.5 687.3 702.7 681.3C708.9 675.3 716.7 668.2 724.0 662.7C731.3 657.2 740.7 652.3 746.7 648.0C752.7 643.7 757.8 638.8 760.0 637.0Z" fill="#232325" />
<path d="M764.0 638.5C773.3 637.8 800.7 635.5 820.0 634.5C839.3 633.5 860.0 632.7 880.0 632.5C900.0 632.3 925.3 632.8 940.0 633.5C954.7 634.2 963.3 636.0 968.0 636.5" fill="none" stroke="#404044" stroke-width="2.2" stroke-linecap="round" stroke-linejoin="round" opacity="0.9"/>
<path d="M800.0 655.0C803.3 654.2 806.7 651.4 820.0 650.0C833.3 648.6 860.0 647.2 880.0 646.5C900.0 645.8 924.3 646.1 940.0 645.5C955.7 644.9 968.3 643.4 974.0 643.0" fill="none" stroke="#0a0a0b" stroke-width="2.6" stroke-linecap="round" stroke-linejoin="round" />
<path d="M756.0 644.0C751.7 647.0 738.3 655.3 730.0 662.0C721.7 668.7 712.7 677.2 706.0 684.0C699.3 690.8 692.7 699.8 690.0 703.0" fill="none" stroke="#3a3a3e" stroke-width="2" stroke-linecap="round" stroke-linejoin="round" opacity="0.7"/>
<circle cx="701.3" cy="741.3" r="35.5" fill="#1d1d1f"/>
<circle cx="701.3" cy="741.3" r="34.2" fill="none" stroke="#47474b" stroke-width="1.3" opacity="0.8"/>
<circle cx="701.3" cy="741.3" r="28.7" fill="url(#knobg)"/>
<circle cx="701.3" cy="741.3" r="28.7" fill="none" stroke="#38383b" stroke-width="1.2"/>
<rect x="0" y="1072.5" width="1500" height="428" fill="#01887f"/>
<path d="M127 277 A283 283 0 0 1 497 61" fill="none" stroke="#5fb1ab" stroke-width="3.6"/>
<circle cx="127" cy="277" r="7.6" fill="#4aa8a2"/><circle cx="497" cy="61" r="7.6" fill="#4aa8a2"/>
<path d="M1131.0 615.5C1136.2 617.8 1150.7 619.9 1162.0 629.5C1173.3 639.1 1189.2 656.8 1199.0 673.0C1208.8 689.2 1216.6 711.3 1221.0 727.0C1225.4 742.7 1226.3 751.5 1225.5 767.0C1224.7 782.5 1221.1 803.2 1216.0 820.0C1210.9 836.8 1201.7 855.2 1195.0 868.0C1188.3 880.8 1179.2 892.2 1176.0 897.0" fill="none" stroke="#5fb1ab" stroke-width="3.6"/>
<circle cx="1131" cy="615.5" r="7.6" fill="#4aa8a2"/><circle cx="1176" cy="897" r="7.6" fill="#4aa8a2"/>
<text x="509" y="43" font-size="40" font-weight="bold" fill="#14867e" text-anchor="start" textLength="86" lengthAdjust="spacingAndGlyphs">107°</text>
<text x="27" y="320.5" font-size="40" font-weight="bold" fill="#14867e" text-anchor="start" textLength="87" lengthAdjust="spacingAndGlyphs">144°</text>
<text x="1137.5" y="601.5" font-size="37" font-weight="bold" fill="#14867e" text-anchor="start" textLength="62" lengthAdjust="spacingAndGlyphs">37°</text>
<text x="1193.5" y="913.5" font-size="36" font-weight="bold" fill="#14867e" text-anchor="start" textLength="39" lengthAdjust="spacingAndGlyphs">0°</text>
<rect x="1294" y="82" width="165" height="929" rx="82" fill="#ffffff" opacity="0.6" filter="url(#blur3)"/>
<rect x="1297.5" y="85" width="158" height="923" rx="79" fill="#ffffff"/>
<circle cx="1376.5" cy="170" r="70.5" fill="#01887f"/>
<circle cx="1376.5" cy="925" r="70.5" fill="#01887f"/>
<text x="1377.5" y="186.5" font-size="46" font-weight="normal" fill="#e6f8f6" text-anchor="middle" textLength="101" lengthAdjust="spacingAndGlyphs">22.2&quot;</text>
<text x="1378.5" y="942.5" font-size="46" font-weight="normal" fill="#e6f8f6" text-anchor="middle" textLength="100" lengthAdjust="spacingAndGlyphs">18.5&quot;</text>
<path d="M1351.0 362.0 L1376.5 326.0 L1402.0 362.0" fill="none" stroke="#e1efed" stroke-width="4.6"/>
<path d="M1351.0 331.0 L1376.5 294.0 L1402.0 331.0" fill="none" stroke="#9ccdc8" stroke-width="4.6"/>
<path d="M1351.0 299.0 L1376.5 262.0 L1402.0 299.0" fill="none" stroke="#2e938b" stroke-width="4.6"/>
<path d="M1351.5 731.0 L1377.0 767.0 L1402.5 731.0" fill="none" stroke="#e1efed" stroke-width="4.6"/>
<path d="M1351.5 762.5 L1377.0 799.5 L1402.5 762.5" fill="none" stroke="#9ccdc8" stroke-width="4.6"/>
<path d="M1351.5 794.5 L1377.0 831.5 L1402.5 794.5" fill="none" stroke="#2e938b" stroke-width="4.6"/>
<text transform="translate(1358 378.5) rotate(90)" font-size="50" fill="#13857d" stroke="#13857d" stroke-width="1.6"><tspan x="-2.5" textLength="127" lengthAdjust="spacing">SEAT</tspan><tspan x="141.5" textLength="194" lengthAdjust="spacing">HEIGHT</tspan></text>
<path d="M545 940 H693 V1022 H545 M693 982 H831.5" fill="none" stroke="#14877e" stroke-width="2.8"/>
<circle cx="838" cy="981.5" r="5.6" fill="none" stroke="#14877e" stroke-width="2.6"/>
<circle cx="511.5" cy="937" r="36.8" fill="#01887f"/>
<text x="511.5" y="954" font-size="48" font-weight="bold" fill="#ffffff" text-anchor="middle" >1</text>
<circle cx="511.5" cy="1016.5" r="36.8" fill="#01887f"/>
<text x="511.5" y="1033.5" font-size="48" font-weight="bold" fill="#ffffff" text-anchor="middle" >2</text>
<circle cx="979" cy="984" r="36.8" fill="#01887f"/>
<text x="979" y="1001" font-size="48" font-weight="bold" fill="#ffffff" text-anchor="middle" >3</text>
<text y="1260" font-size="84" font-weight="bold" fill="#ffffff"><tspan x="151.5">3</tspan><tspan x="224.5" textLength="258" lengthAdjust="spacingAndGlyphs">Points</tspan><tspan x="509" textLength="90" lengthAdjust="spacingAndGlyphs">of</tspan></text>
<text x="148" y="1360" font-size="84" font-weight="bold" fill="#ffffff" textLength="486" lengthAdjust="spacingAndGlyphs">Adjustment</text>
<circle cx="880.5" cy="1194" r="30" fill="#33ada3"/>
<text x="880.5" y="1210.5" font-size="46" font-weight="normal" fill="#e9f9f7" text-anchor="middle" >1</text>
<text x="932" y="1212" font-size="51" fill="#edfbf9" stroke="#edfbf9" stroke-width="0.5" textLength="328" lengthAdjust="spacingAndGlyphs">Rocking Mode</text>
<circle cx="880.5" cy="1275.5" r="30" fill="#33ada3"/>
<text x="880.5" y="1292.0" font-size="46" font-weight="normal" fill="#e9f9f7" text-anchor="middle" >2</text>
<text x="932" y="1292" font-size="51" fill="#edfbf9" stroke="#edfbf9" stroke-width="0.5" textLength="260" lengthAdjust="spacingAndGlyphs">Seat Air Lift</text>
<circle cx="880.5" cy="1358" r="30" fill="#33ada3"/>
<text x="880.5" y="1374.5" font-size="46" font-weight="normal" fill="#e9f9f7" text-anchor="middle" >3</text>
<text x="934" y="1373.5" font-size="51" fill="#edfbf9" stroke="#edfbf9" stroke-width="0.5" textLength="355" lengthAdjust="spacingAndGlyphs">Tension Control</text>
</svg>
</body></html>
